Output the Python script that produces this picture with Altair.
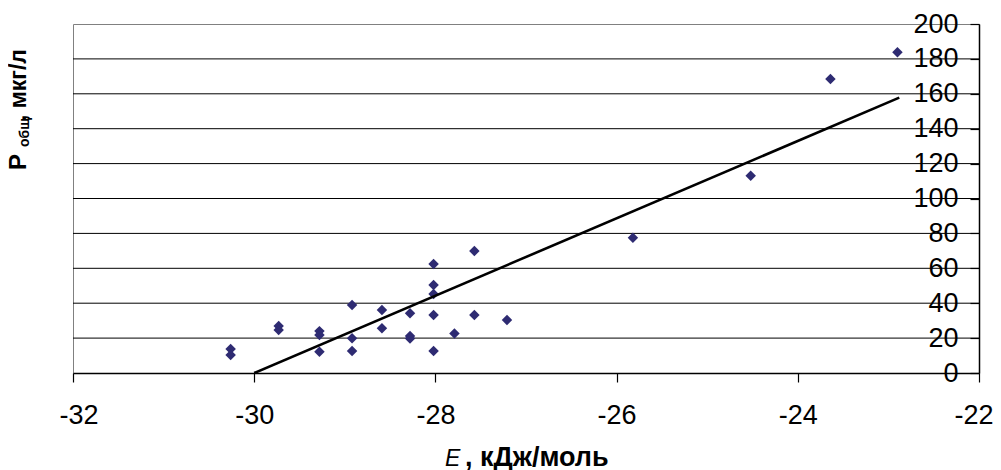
import altair as alt
import pandas as pd

# Data
energy = [-30.26, -30.26, -29.73, -29.73, -29.28, -29.28, -29.28,
          -28.92, -28.92, -28.92, -28.59, -28.59, -28.28, -28.28, -28.28,
          -28.02, -28.02, -28.02, -28.02, -28.02, -27.79, -27.57, -27.57,
          -27.21, -25.82, -24.52, -23.64, -22.90]
p_total = [13.8, 10.3, 27.0, 24.6, 24.0, 21.8, 12.2,
           39.0, 19.9, 12.6, 36.1, 25.6, 34.2, 21.2, 19.7,
           62.5, 50.4, 45.3, 33.2, 12.6, 22.7, 69.9, 33.2,
           30.4, 77.5, 113.1, 168.5, 183.8]

trend_x = [-30.0, -22.88]
trend_y = [0.0, 157.8]

x_ticks = [-32, -30, -28, -26, -24, -22]
y_ticks = [0, 20, 40, 60, 80, 100, 120, 140, 160, 180, 200]
grid_values = [20, 40, 60, 80, 100, 120, 140, 160, 180]

W, H = 906, 349
FONT = "Liberation Sans"

pts = pd.DataFrame({"E": energy, "P": p_total})
trend = pd.DataFrame({"E": trend_x, "P": trend_y})
grid = pd.DataFrame({"g": grid_values})

xscale = alt.Scale(domain=[-32, -22], nice=False, zero=False)
yscale = alt.Scale(domain=[0, 200], nice=False)

xaxis = alt.Axis(values=x_ticks, title=None, grid=False, domainColor="black",
                 domainWidth=1.5, tickColor="black", tickSize=9, tickWidth=1.2,
                 labelFont=FONT, labelFontSize=27, labelColor="black",
                 labelPadding=20, labelFlush=True, labelFlushOffset=14,
                 labelOverlap=False, labelExpr="datum.value + ''")
yaxis = alt.Axis(orient="left", offset=-W, values=y_ticks, title=None, grid=False,
                 domainColor="black", domainWidth=1.5, tickColor="black",
                 tickSize=9, tickWidth=1.2, labelFont=FONT, labelFontSize=27,
                 labelColor="black", labelPadding=12, labelAlign="right",
                 labelOverlap=False, labelFlush=False, labelBound=False)

gridlines = alt.Chart(grid).mark_rule(color="black", strokeWidth=1).encode(
    y=alt.Y("g:Q", scale=yscale, axis=yaxis)
)

points = alt.Chart(pts).mark_point(shape="diamond", filled=True, size=110,
                                   color="#2E2B72", opacity=1).encode(
    x=alt.X("E:Q", scale=xscale, axis=xaxis),
    y=alt.Y("P:Q", scale=yscale, axis=yaxis),
)

line = alt.Chart(trend).mark_line(color="black", strokeWidth=2.6).encode(
    x=alt.X("E:Q", scale=xscale, axis=xaxis),
    y=alt.Y("P:Q", scale=yscale, axis=yaxis),
)

def label(txt, x, y, size, angle=0, weight="normal", style="normal"):
    return alt.Chart(alt.Data(values=[{"t": txt}])).mark_text(
        font=FONT, fontSize=size, fontWeight=weight, fontStyle=style,
        align="left", baseline="alphabetic", angle=angle, color="black"
    ).encode(x=alt.value(x), y=alt.value(y), text="t:N")

titles = [
    label("P", -47, 146, 24, angle=270, weight="bold"),
    label("общ", -44.5, 123, 14, angle=270, weight="bold"),
    label(", мкг/л", -47, 97, 23, angle=270, weight="bold"),
    label("E", 372, 442, 23, style="italic"),
    label(", кДж/моль", 392, 442, 27, weight="bold"),
]

chart = alt.layer(gridlines, points, line, *titles).properties(
    width=W, height=H,
    autosize=alt.AutoSizeParams(type="none"),
    padding={"left": 65, "top": 16, "right": 14, "bottom": 97},
    background="white",
).configure_view(stroke="#808080", strokeWidth=1).configure_axis(
    labelOverlap=False
)

chart.save("out.html", embed_options={"renderer": "svg", "actions": False})
